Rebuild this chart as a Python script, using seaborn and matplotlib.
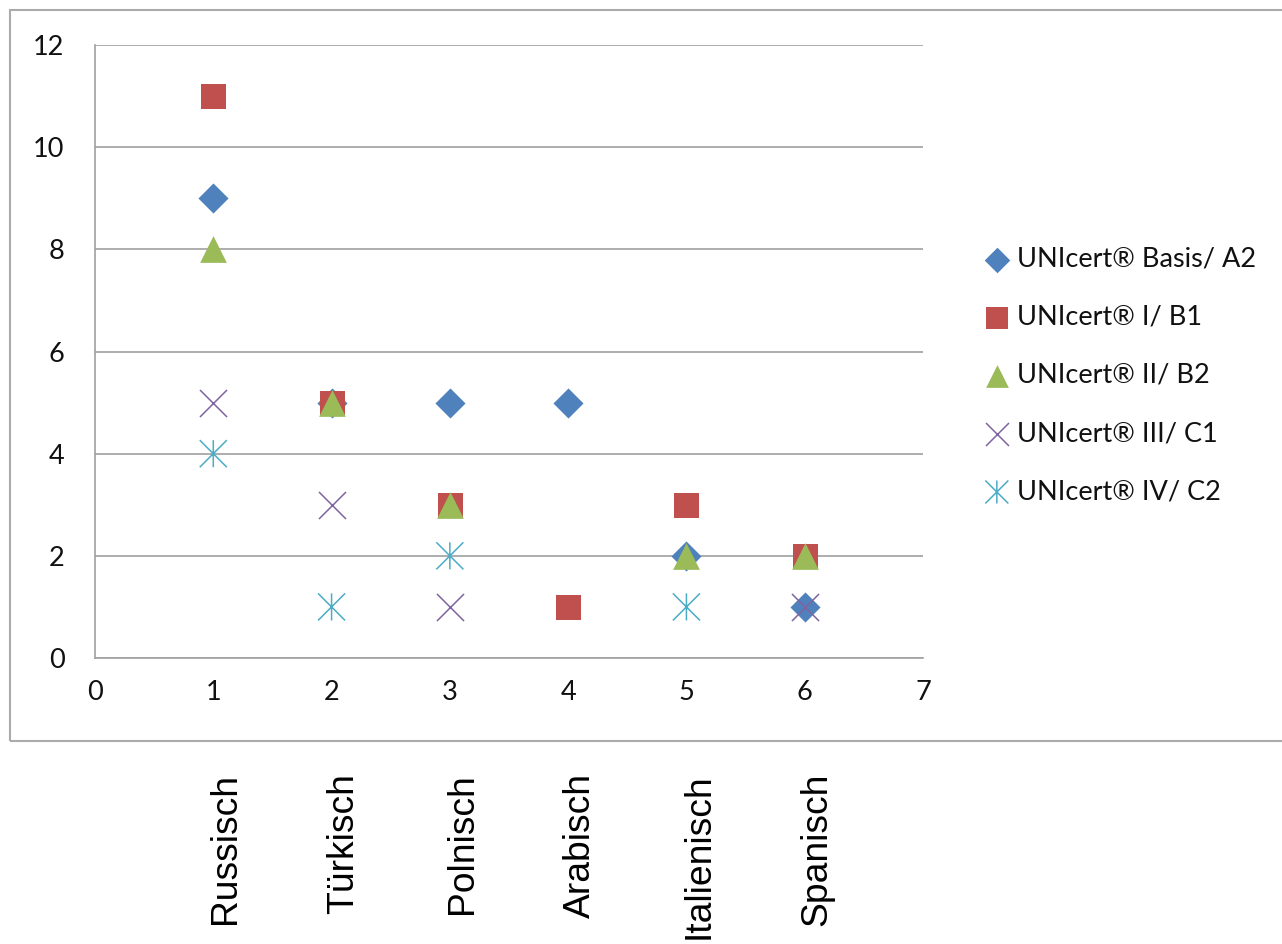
import numpy as np
import pandas as pd
import matplotlib
matplotlib.use("Agg")
import matplotlib.pyplot as plt
import matplotlib.transforms as mtransforms
from matplotlib.path import Path
from matplotlib.patches import Rectangle
import seaborn as sns

# Languages on the x axis (positions 1..6)
languages = ["Russisch", "Türkisch", "Polnisch", "Arabisch", "Italienisch", "Spanisch"]
positions = [1, 2, 3, 4, 5, 6]

# Number of certificates per level and language
basis_a2 = [9, 5, 5, 5, 2, 1]
level1_b1 = [11, 5, 3, 1, 3, 2]
level2_b2 = [8, 5, 3, np.nan, 2, 2]
level3_c1 = [5, 3, 1, np.nan, np.nan, 1]
level4_c2 = [4, 1, 2, np.nan, 1, np.nan]

series_names = [
    "UNIcert® Basis/ A2",
    "UNIcert® I/ B1",
    "UNIcert® II/ B2",
    "UNIcert® III/ C1",
    "UNIcert® IV/ C2",
]
series_values = [basis_a2, level1_b1, level2_b2, level3_c1, level4_c2]

x_ticks = [0, 1, 2, 3, 4, 5, 6, 7]
y_ticks = [0, 2, 4, 6, 8, 10, 12]

# Office-style asterisk: vertical stroke plus an X
asterisk = Path(
    [(0, -1), (0, 1), (-1, -1), (1, 1), (-1, 1), (1, -1)],
    [Path.MOVETO, Path.LINETO] * 3,
)

styles = [
    dict(marker="D", s=235, color="#4F81BD", kind="filled"),
    dict(marker="s", s=324, color="#C0504D", kind="filled"),
    dict(marker="^", s=370, color="#9BBB59", kind="filled"),
    dict(marker="x", s=380, color="#8064A2", kind="line"),
    dict(marker=asterisk, s=380, color="#4BACC6", kind="path"),
]

sns.set_theme(style="white")
plt.rcParams["font.family"] = ["Lato", "DejaVu Sans"]

grid_col = "#A0A0A0"

fig = plt.figure(figsize=(12.82, 9.44), dpi=100)
ax = fig.add_axes([95 / 1282, 1 - 658 / 944, (923 - 95) / 1282, (658 - 45) / 944])

for name, vals, st in zip(series_names, series_values, styles):
    df = pd.DataFrame({"x": positions, "y": vals})
    if st["kind"] == "filled":
        sns.scatterplot(data=df, x="x", y="y", marker=st["marker"], s=st["s"],
                        color=st["color"], linewidth=0, ax=ax, label=name, zorder=3)
    elif st["kind"] == "line":
        sns.scatterplot(data=df, x="x", y="y", marker=st["marker"], s=st["s"],
                        color=st["color"], linewidth=1.1, ax=ax, label=name, zorder=3)
    else:
        sns.scatterplot(data=df, x="x", y="y", marker=st["marker"], s=st["s"],
                        color=st["color"], facecolor="none", edgecolor=st["color"],
                        linewidth=1.1, ax=ax, label=name, zorder=3)

ax.set_xlim(0, 7)
ax.set_ylim(0, 12)
ax.set_xticks(x_ticks)
ax.set_yticks(y_ticks)
ax.set_xlabel("")
ax.set_ylabel("")
ax.set_axisbelow(True)
ax.yaxis.grid(True, color=grid_col, linewidth=1.2)
ax.xaxis.grid(False)
for side in ("top", "right"):
    ax.spines[side].set_visible(False)
for side in ("left", "bottom"):
    ax.spines[side].set_color(grid_col)
    ax.spines[side].set_linewidth(1.2)

ax.tick_params(axis="both", direction="out", length=7, width=1.2, color=grid_col,
               labelsize=19.5, labelcolor="#111111")
ax.tick_params(axis="y", pad=15)
ax.tick_params(axis="x", pad=9)

leg = ax.legend(loc="center left", bbox_to_anchor=(986 / 1282, 1 - 375.5 / 944),
                bbox_transform=fig.transFigure, frameon=False, fontsize=19.5,
                handlelength=0.8, handletextpad=0.35, labelspacing=1.22,
                borderpad=0, borderaxespad=0, markerscale=0.85, scatterpoints=1)
for t in leg.get_texts():
    t.set_color("#111111")

# Rotated language names under the chart frame
trans = mtransforms.blended_transform_factory(ax.transData, fig.transFigure)
trans = mtransforms.offset_copy(trans, fig=fig, x=9, y=0, units="points")
for pos, lang in zip(positions, languages):
    ax.text(pos, 1 - 773 / 944, lang, rotation=90, ha="center", va="top",
            fontsize=26.8, family=["Liberation Sans", "DejaVu Sans"],
            color="black", transform=trans, clip_on=False)

# Chart frame
fig.patches.append(Rectangle((10 / 1282, 1 - 741 / 944), 1.2, (741 - 10) / 944,
                             transform=fig.transFigure, fill=False,
                             edgecolor="#ABABAB", linewidth=1.5))

fig.savefig("out.png", dpi=100)
